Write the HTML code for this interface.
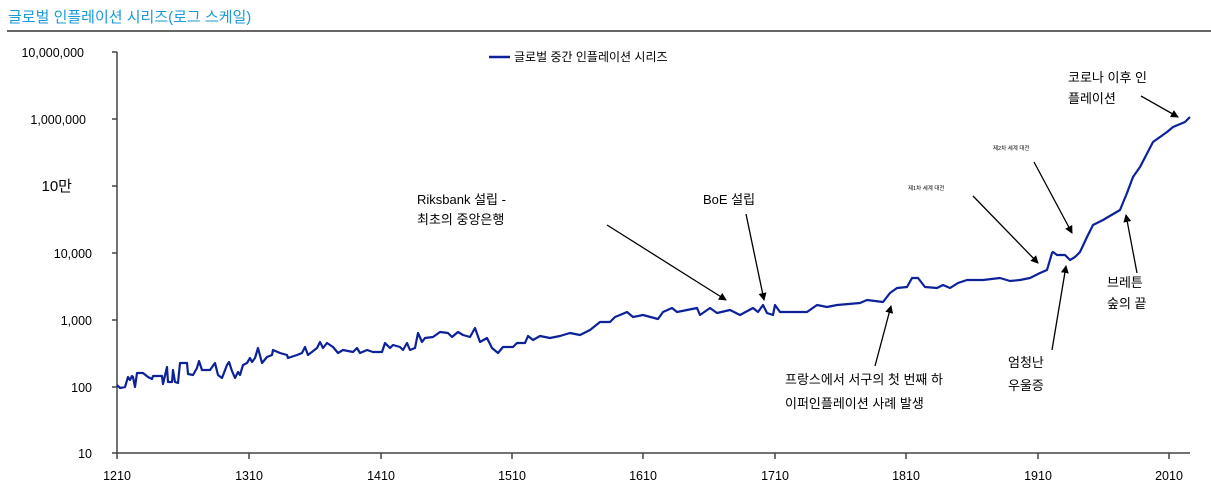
<!DOCTYPE html>
<html><head><meta charset="utf-8">
<style>
html,body{margin:0;padding:0;background:#fff;}
body{width:1211px;height:496px;overflow:hidden;font-family:"Liberation Sans","Noto Sans CJK KR",sans-serif;}
</style></head><body>
<svg width="1211" height="496" viewBox="0 0 1211 496" xmlns="http://www.w3.org/2000/svg" font-family="'Liberation Sans','Noto Sans CJK KR',sans-serif">
<defs><marker id="ah" markerWidth="8" markerHeight="8" refX="7" refY="4" orient="auto" markerUnits="userSpaceOnUse"><path d="M0,0 L8,4 L0,8 z" fill="#000"/></marker></defs>
<text x="8" y="22" font-size="15" fill="#1a9ad6">글로벌 인플레이션 시리즈(로그 스케일)</text>
<line x1="7" y1="31" x2="1211" y2="31" stroke="#333" stroke-width="1.5"/>
<g font-size="12.5" fill="#000" text-anchor="end">
<text x="84" y="57">10,000,000</text>
<text x="86" y="124">1,000,000</text>
<text x="72" y="191" font-size="15">10만</text>
<text x="92" y="258">10,000</text>
<text x="92" y="325">1,000</text>
<text x="92" y="392">100</text>
<text x="92" y="458">10</text>
</g>
<g stroke="#444" stroke-width="1.5">
<line x1="117" y1="52" x2="117" y2="454"/>
<line x1="112" y1="52" x2="117" y2="52"/><line x1="112" y1="119" x2="117" y2="119"/><line x1="112" y1="186" x2="117" y2="186"/><line x1="112" y1="253" x2="117" y2="253"/><line x1="112" y1="320" x2="117" y2="320"/><line x1="112" y1="387" x2="117" y2="387"/><line x1="112" y1="453" x2="117" y2="453"/>
<line x1="117" y1="453" x2="1190" y2="453"/>
<line x1="117" y1="453" x2="117" y2="459"/><line x1="249" y1="453" x2="249" y2="459"/><line x1="381" y1="453" x2="381" y2="459"/><line x1="512" y1="453" x2="512" y2="459"/><line x1="643" y1="453" x2="643" y2="459"/><line x1="775" y1="453" x2="775" y2="459"/><line x1="906" y1="453" x2="906" y2="459"/><line x1="1038" y1="453" x2="1038" y2="459"/><line x1="1169" y1="453" x2="1169" y2="459"/>
</g>
<g font-size="12.5" text-anchor="middle">
<text x="117" y="480">1210</text><text x="249" y="480">1310</text><text x="381" y="480">1410</text><text x="512" y="480">1510</text><text x="643" y="480">1610</text><text x="775" y="480">1710</text><text x="906" y="480">1810</text><text x="1038" y="480">1910</text><text x="1169" y="480">2010</text>
</g>
<line x1="489" y1="57" x2="510" y2="57" stroke="#0d2299" stroke-width="2.5"/>
<text x="514" y="61" font-size="12">글로벌 중간 인플레이션 시리즈</text>
<polyline fill="none" stroke="#0d2299" stroke-width="2.2" stroke-linejoin="round" points="117,385 120,388 125,387 128,377 130,380 132,376 133,377 135,387 137,373 143,373 148,377 152,379 153,376 162,376 163,384 167,367 168,382 172,382 173,370 175,382 178,383 180,363 187,363 188,374 193,375 197,368 199,361 202,370 210,370 215,363 218,375 222,378 227,365 229,362 232,371 235,378 238,372 240,375 243,365 247,363 250,358 252,362 255,358 258,348 262,363 267,357 272,355 273,350 280,353 287,355 288,358 297,355 302,353 305,347 308,355 317,348 320,342 323,348 327,343 333,347 338,353 343,350 353,352 357,348 360,353 367,350 373,352 382,352 385,343 390,348 393,345 400,347 403,350 407,343 410,350 415,348 418,333 422,342 425,338 433,337 440,332 448,333 452,337 458,332 463,335 470,337 475,328 480,342 487,338 492,348 498,353 503,347 513,347 517,343 525,343 528,336 533,340 540,336 550,338 560,336 570,333 580,335 590,330 600,322 610,322 615,317 620,315 627,312 633,317 643,315 658,319 663,312 672,308 677,312 697,308 700,315 710,308 717,313 730,310 740,315 753,308 758,312 763,305 767,313 773,315 775,305 780,312 807,312 817,305 827,307 837,305 860,303 867,300 883,302 890,293 897,288 907,287 912,278 918,278 925,287 937,288 943,285 950,288 958,283 967,280 983,280 1000,278 1010,281 1020,280 1030,278 1040,273 1047,270 1052,253 1053,252 1057,255 1065,255 1070,260 1075,257 1080,252 1087,237 1093,225 1103,220 1120,210 1127,193 1133,177 1140,167 1153,142 1167,132 1173,127 1185,122 1190,117"/>
<g font-size="13">
<text x="417" y="204">Riksbank 설립 -</text>
<text x="417" y="224">최초의 중앙은행</text>
<text x="703" y="204">BoE 설립</text>
<text x="785" y="384">프랑스에서 서구의 첫 번째 하</text>
<text x="785" y="408">이퍼인플레이션 사례 발생</text>
<text x="1008" y="367">엄청난</text>
<text x="1008" y="390">우울증</text>
<text x="1107" y="287">브레튼</text>
<text x="1107" y="308">숲의 끝</text>
<text x="1068" y="82">코로나 이후 인</text>
<text x="1068" y="103">플레이션</text>
</g>
<text x="908" y="190" font-size="5.5">제1차 세계 대전</text>
<text x="993" y="150" font-size="5.5">제2차 세계 대전</text>
<g stroke="#000" stroke-width="1.3" marker-end="url(#ah)">
<line x1="607" y1="225" x2="726" y2="300"/>
<line x1="746" y1="214" x2="764" y2="300"/>
<line x1="875" y1="366" x2="891" y2="306"/>
<line x1="973" y1="196" x2="1038" y2="263"/>
<line x1="1034" y1="162" x2="1072" y2="233"/>
<line x1="1052" y1="350" x2="1066" y2="266"/>
<line x1="1137" y1="273" x2="1126" y2="215"/>
<line x1="1141" y1="96" x2="1178" y2="117"/>
</g>
</svg>
</body></html>
